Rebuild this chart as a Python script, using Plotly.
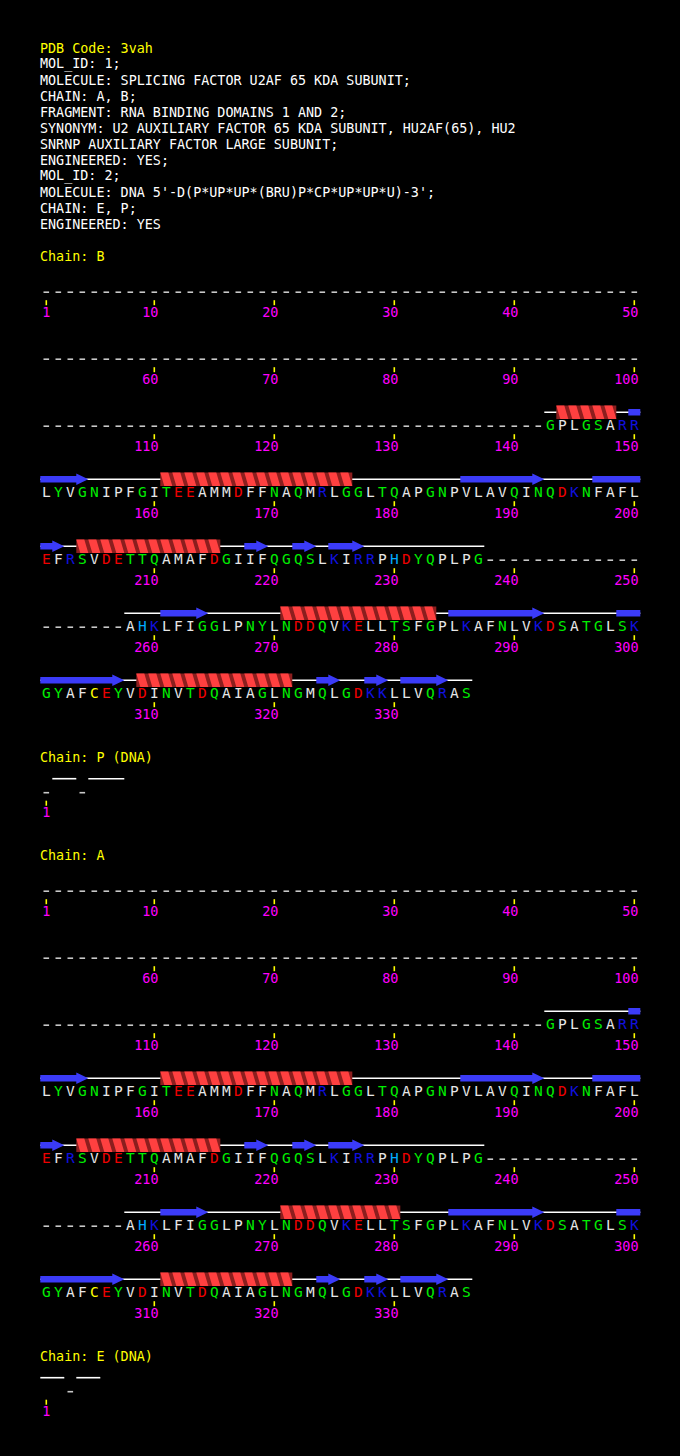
import plotly.graph_objects as go

# ---------------- data ----------------
PDB_CODE = "3vah"
HEADER_LINES = [
    "MOL_ID: 1;",
    "MOLECULE: SPLICING FACTOR U2AF 65 KDA SUBUNIT;",
    "CHAIN: A, B;",
    "FRAGMENT: RNA BINDING DOMAINS 1 AND 2;",
    "SYNONYM: U2 AUXILIARY FACTOR 65 KDA SUBUNIT, HU2AF(65), HU2",
    "SNRNP AUXILIARY FACTOR LARGE SUBUNIT;",
    "ENGINEERED: YES;",
    "MOL_ID: 2;",
    "MOLECULE: DNA 5'-D(P*UP*UP*(BRU)P*CP*UP*UP*U)-3';",
    "CHAIN: E, P;",
    "ENGINEERED: YES",
]

# '-' = residue not observed, '.' = residue present but no letter drawn
PROTEIN_SEQ = ("-" * 142 + "GPLGSARR"
               "LYVGNIPFGITEEAMMDFFNAQMRLGGLTQAPGNPVLAVQINQDKNFAFL"
               "EFRSVDETTQAMAFDGIIFQGQSLKIRRPHDYQPLPG" + "-" * 20 +
               "AHKLFIGGLPNYLNDDQVKELLTSFGPLKAFNLVKDSATGLSK"
               "GYAFCEYVDINVTDQAIAGLNGMQLGDKKLLVQRAS")
DNA_P_SEQ = "-..-..."
DNA_E_SEQ = "..-.."

HELICES_B = [(144, 148), (161, 176), (204, 215), (271, 283), (309, 321)]
STRANDS_B = [(150, 154), (186, 192), (197, 202), (218, 219), (222, 223),
             (225, 227), (261, 264), (285, 292), (299, 307), (324, 325),
             (328, 329), (331, 334)]
HELICES_A = [(161, 176), (204, 215), (271, 280), (311, 321)]
STRANDS_A = STRANDS_B

CHAINS = [("B", PROTEIN_SEQ, HELICES_B, STRANDS_B),
          ("P (DNA)", DNA_P_SEQ, [], []),
          ("A", PROTEIN_SEQ, HELICES_A, STRANDS_A),
          ("E (DNA)", DNA_E_SEQ, [], [])]

RES_COLORS = {}
for aa in "GSTNQY":
    RES_COLORS[aa] = "#00ee00"
for aa in "DE":
    RES_COLORS[aa] = "#ee0000"
for aa in "KR":
    RES_COLORS[aa] = "#1010e0"
RES_COLORS["H"] = "#00aaff"
RES_COLORS["C"] = "#ffff00"
OTHER_COLOR = "#e6e6e6"

# ---------------- style ----------------
W, H = 680, 1456
CELL = 12.0          # px per residue
X0 = 46.3            # px centre of first column
PER_ROW = 50
ROW_STEP = 67
MONO = "DejaVu Sans Mono"
YELLOW = "#ffff00"
WHITE = "#ffffff"
MAGENTA = "#ff00ff"
GREY = "#c8c8c8"
HELIX_LIGHT = "#ff4040"
HELIX_DARK = "#8c1e1e"
STRAND = "#3b3bf8"
NUM_ADV = 7.9        # px advance of a digit


def cx(px):
    return (px - X0) / CELL


def px(n):
    return n / CELL


ann = []


def text_ann(txt, x_px, y, color, size=13.4):
    ann.append(dict(x=cx(x_px), y=y, xref="x", yref="y", text=txt,
                    showarrow=False, xanchor="left", yanchor="middle",
                    borderpad=0,
                    font=dict(family=MONO, size=size, color=color)))


text_ann("PDB Code: " + PDB_CODE, 39, 48.3, YELLOW)
for i, line in enumerate(HEADER_LINES):
    text_ann(line, 39, 64.3 + 16 * i, WHITE)

letters = {}
dash_x, dash_y = [], []
coil_x, coil_y = [], []
tick_x, tick_y = [], []
num_x, num_y, num_t = [], [], []
hl_x, hl_y = [], []
hd_x, hd_y = [], []
st_x, st_y = [], []

y_label = 256.7
for name, seq, helices, strands in CHAINS:
    text_ann("Chain: " + name, 39, y_label, YELLOW)
    y_first = y_label + 35.5
    nrows = (len(seq) + PER_ROW - 1) // PER_ROW
    helix_res = set()
    for s, e in helices:
        helix_res.update(range(s, e + 1))

    for i, ch in enumerate(seq):
        res = i + 1
        r, c = divmod(i, PER_ROW)
        y = y_first + r * ROW_STEP
        if ch == "-":
            dash_x += [c - px(2.8), c + px(2.8), None]
            dash_y += [y, y, None]
        elif ch != ".":
            col = RES_COLORS.get(ch, OTHER_COLOR)
            d = letters.setdefault(col, ([], [], []))
            d[0].append(c)
            d[1].append(y)
            d[2].append(ch)
        if res == 1 or res % 10 == 0:
            tick_x += [c, c, None]
            tick_y += [y + 8, y + 13, None]
            t = str(res)
            num_x.append(c - px((len(t) - 1) * NUM_ADV / 2))
            num_y.append(y + 21)
            num_t.append(t)
        if res in helix_res:
            ys = y - 14
            xl = c - 0.5
            hl_x += [xl, xl + px(8), xl + px(12), xl + px(4), xl, None]
            hl_y += [ys - 6.7, ys - 6.7, ys + 6.7, ys + 6.7, ys - 6.7, None]

    # coil runs and helix backgrounds, row by row
    for r in range(nrows):
        y = y_first + r * ROW_STEP - 14
        row = seq[r * PER_ROW:(r + 1) * PER_ROW]
        c = 0
        while c < len(row):
            if row[c] == "-":
                c += 1
                continue
            c2 = c
            while c2 + 1 < len(row) and row[c2 + 1] != "-":
                c2 += 1
            coil_x += [c - 0.5, c2 + 0.5, None]
            coil_y += [y, y, None]
            c = c2 + 1
        for s, e in helices:
            a = max(s - 1, r * PER_ROW)
            b = min(e - 1, (r + 1) * PER_ROW - 1)
            if a > b:
                continue
            xa, xb = a % PER_ROW - 0.5, b % PER_ROW + 0.5
            hd_x += [xa, xb, xb, xa, xa, None]
            hd_y += [y - 6.7, y - 6.7, y + 6.7, y + 6.7, y - 6.7, None]

    for s, e in strands:
        for r in range((s - 1) // PER_ROW, (e - 1) // PER_ROW + 1):
            y = y_first + r * ROW_STEP - 14
            a = max(s - 1, r * PER_ROW) % PER_ROW
            b_abs = min(e - 1, (r + 1) * PER_ROW - 1)
            b = b_abs % PER_ROW
            x0, x1 = a - 0.5, b + 0.5
            if b_abs == e - 1:
                xh = x1 - 1.0
                st_x += [x0, xh, xh, x1, xh, xh, x0, x0, None]
                st_y += [y - 3.3, y - 3.3, y - 5.8, y, y + 5.8, y + 3.3,
                         y + 3.3, y - 3.3, None]
            else:
                st_x += [x0, x1, x1, x0, x0, None]
                st_y += [y - 3.3, y - 3.3, y + 3.3, y + 3.3, y - 3.3, None]

    y_label = y_first + (nrows - 1) * ROW_STEP + 63

fig = go.Figure()
fig.add_trace(go.Scatter(x=coil_x, y=coil_y, mode="lines",
                         line=dict(color=WHITE, width=1.6)))
fig.add_trace(go.Scatter(x=hd_x, y=hd_y, mode="lines", fill="toself",
                         fillcolor=HELIX_DARK, line=dict(width=0)))
fig.add_trace(go.Scatter(x=hl_x, y=hl_y, mode="lines", fill="toself",
                         fillcolor=HELIX_LIGHT, line=dict(width=0)))
fig.add_trace(go.Scatter(x=st_x, y=st_y, mode="lines", fill="toself",
                         fillcolor=STRAND, line=dict(width=0)))
fig.add_trace(go.Scatter(x=dash_x, y=dash_y, mode="lines",
                         line=dict(color=GREY, width=1.6)))
fig.add_trace(go.Scatter(x=tick_x, y=tick_y, mode="lines",
                         line=dict(color=YELLOW, width=1.6)))
for col, (xs, ys, ts) in letters.items():
    fig.add_trace(go.Scatter(x=xs, y=ys, text=ts, mode="text",
                             textposition="middle center",
                             textfont=dict(family=MONO, size=14.5, color=col)))
fig.add_trace(go.Scatter(x=num_x, y=num_y, text=num_t, mode="text",
                         textposition="middle center",
                         textfont=dict(family=MONO, size=13.5, color=MAGENTA)))

fig.update_layout(
    width=W, height=H,
    margin=dict(l=0, r=0, t=0, b=0),
    paper_bgcolor="black", plot_bgcolor="black",
    showlegend=False, hovermode=False,
    annotations=ann,
    xaxis=dict(range=[cx(0), cx(W)], visible=False, fixedrange=True),
    yaxis=dict(range=[H, 0], visible=False, fixedrange=True),
)
fig.write_html("out.html", config=dict(displayModeBar=False),
               post_script="document.body.style.margin='0';"
                           "document.body.style.background='black';")
